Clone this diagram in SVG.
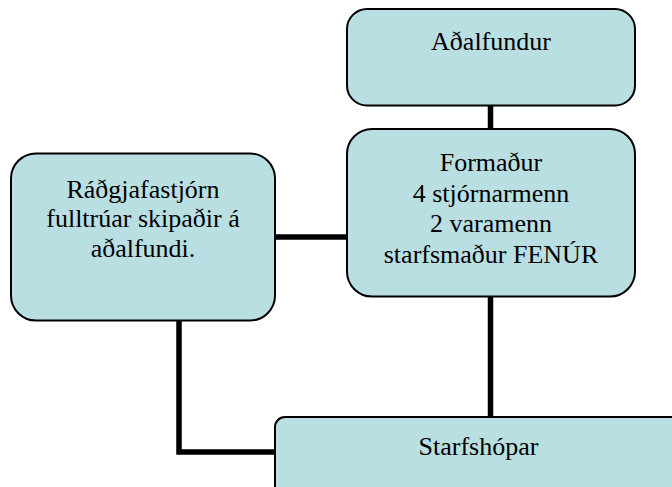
<svg xmlns="http://www.w3.org/2000/svg" width="672" height="487" viewBox="0 0 672 487">
  <style>
    .box { fill: #B9DFE3; stroke: #000; stroke-width: 2; }
    .conn { fill: none; stroke: #000; stroke-width: 5.5; }
    .t { font-family: "Liberation Serif", "Times New Roman", serif; font-size: 26px; fill: #000; text-anchor: middle; }
  </style>
  <rect width="672" height="487" fill="#fff"/>
  <g id="connectors">
    <line class="conn" x1="490.5" y1="105" x2="490.5" y2="129"/>
    <line class="conn" x1="275" y1="237" x2="347" y2="237"/>
    <line class="conn" x1="490.5" y1="296" x2="490.5" y2="417"/>
    <polyline class="conn" points="179,320 179,452 276,452"/>
  </g>
  <g id="adalfundur">
    <rect class="box" x="347" y="9" width="288" height="96.5" rx="20" ry="20"/>
    <text class="t" x="491" y="49.5">Aðalfundur</text>
  </g>
  <g id="formadur">
    <rect class="box" x="347" y="129" width="288" height="167.5" rx="25" ry="25"/>
    <text class="t" x="491" y="171">Formaður</text>
    <text class="t" x="491" y="201.5">4 stjórnarmenn</text>
    <text class="t" x="491" y="232">2 varamenn</text>
    <text class="t" x="491" y="262.5">starfsmaður FENÚR</text>
  </g>
  <g id="radgjafastjorn">
    <rect class="box" x="11" y="153.5" width="264" height="167" rx="25" ry="25"/>
    <text class="t" x="143" y="197.5">Ráðgjafastjórn</text>
    <text class="t" x="143" y="227">fulltrúar skipaðir á</text>
    <text class="t" x="143" y="256.5">aðalfundi.</text>
  </g>
  <g id="starfshopar">
    <rect class="box" x="275" y="417" width="407" height="90" rx="10" ry="10"/>
    <text class="t" x="478.5" y="454.5">Starfshópar</text>
  </g>
</svg>
